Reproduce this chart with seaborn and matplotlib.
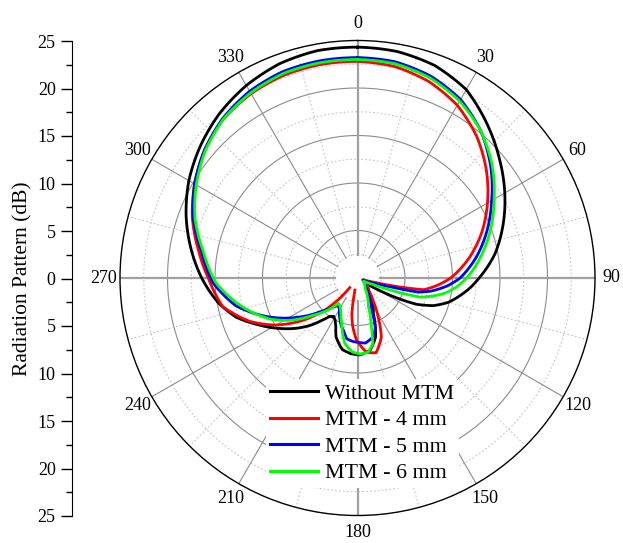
import numpy as np
import pandas as pd
import matplotlib
matplotlib.use('Agg')
import matplotlib.pyplot as plt
import seaborn as sns
from matplotlib.ticker import FixedLocator, MultipleLocator, FuncFormatter

# ---------------- data (angle in degrees, clockwise from top; radius in dB-axis units) ----------------
series_names = ['Without MTM', 'MTM - 4 mm', 'MTM - 5 mm', 'MTM - 6 mm']
series_colors = ['#000000', '#ff0000', '#0000ff', '#00ff00']

black_deg = [0, 10, 20, 30, 40, 50, 60, 70, 80, 90, 95, 100, 105, 110, 114, 118, 122,
             130, 140, 150, 156, 163, 170, 178, 185, 192, 200, 204, 208, 212, 216, 220,
             225, 230, 237, 245, 252, 260, 270, 280, 290, 300, 310, 320, 330, 340, 350, 360]
black_r = [24.3, 24.2, 23.8, 22.9, 21.2, 19.5, 17.9, 16.3, 14.7, 12.8, 11.9, 10.9, 9.9, 8.5, 6.8, 3.8, 1.05,
           1.3, 1.9, 3.2, 4.1, 6.5, 7.7, 8.1, 8.0, 7.7, 6.6, 5.6, 5.0, 4.75, 5.0, 5.8,
           7.05, 8.2, 9.75, 11.6, 13.4, 14.9, 16.4, 17.8, 19.2, 20.5, 21.6, 22.6, 23.4, 24.0, 24.3, 24.3]

red_deg = [0, 10, 20, 30, 40, 50, 60, 70, 80, 90, 95, 100, 102, 104, 107,
           115, 125, 138, 146, 152, 158, 166, 173, 181, 186, 189, 192,
           219, 221, 225, 232, 240, 248, 258, 270, 280, 290, 300, 310, 320, 330, 340, 350, 360]
red_r = [22.8, 22.6, 22.0, 21.0, 19.5, 17.7, 15.8, 13.9, 11.9, 9.8, 8.5, 7.1, 4.5, 2.0, 0.6,
         0.9, 1.2, 1.7, 3.0, 4.6, 6.7, 8.1, 7.9, 6.5, 5.0, 3.8, 1.3,
         1.3, 2.8, 4.6, 7.2, 9.9, 12.2, 14.5, 15.7, 17.0, 18.5, 19.8, 21.0, 21.9, 22.4, 22.7, 22.8, 22.8]

blue_deg = [0, 10, 20, 30, 40, 50, 60, 70, 80, 90, 95, 100, 103, 105, 108, 112,
            125, 140, 150, 156, 160, 165, 173, 178, 184, 190, 195, 198, 204, 210, 215, 220,
            228, 237, 246, 257, 268, 280, 290, 300, 310, 320, 330, 340, 350, 360]
blue_r = [23.2, 23.1, 22.6, 21.7, 20.2, 18.3, 16.3, 14.5, 12.7, 10.8, 9.5, 7.9, 6.6, 3.5, 1.5, 0.6,
          0.9, 1.4, 2.6, 3.7, 5.5, 6.4, 6.9, 6.8, 6.7, 6.5, 5.7, 5.4, 4.6, 3.8, 3.5, 4.0,
          5.3, 7.6, 10.1, 13.1, 15.2, 16.7, 18.4, 19.8, 21.0, 22.0, 22.7, 23.1, 23.2, 23.2]

green_deg = [0, 10, 20, 30, 40, 50, 60, 70, 80, 90, 95, 100, 107, 110, 113, 118,
             126, 144, 152, 159, 164, 167, 172, 178, 184, 191, 199, 205, 211, 217, 220,
             230, 238, 245, 257, 268, 280, 290, 300, 310, 320, 330, 340, 350, 360]
green_r = [23.0, 22.9, 22.4, 21.5, 20.2, 18.5, 16.6, 14.9, 13.2, 11.5, 10.5, 9.3, 6.9, 3.7, 1.6, 0.7,
           0.85, 1.35, 2.2, 3.2, 5.3, 7.1, 7.9, 8.0, 7.8, 7.0, 5.1, 4.1, 3.5, 3.35, 4.0,
           6.1, 8.4, 10.2, 12.7, 14.9, 16.5, 18.2, 19.6, 20.9, 21.9, 22.5, 22.9, 23.0, 23.0]

angle_ticks = list(range(0, 360, 30))
radial_ticks = [-25, -20, -15, -10, -5, 0, 5, 10, 15, 20, 25]

# ---------------- figure ----------------
plt.rcParams['font.family'] = ['Liberation Serif', 'DejaVu Serif']
W, H = 623, 543
fig = plt.figure(figsize=(W / 100, H / 100), dpi=100)
cx, cy, R = 357.5, 278, 237.5
ax = fig.add_axes([(cx - R) / W, (H - cy - R) / H, 2 * R / W, 2 * R / H], projection='polar')
ax.set_theta_zero_location('N')
ax.set_theta_direction(-1)
ax.grid(False)

# grid (circles + spokes with an empty hole in the middle)
tf = np.linspace(0, 2 * np.pi, 721)
for rr in [5, 10, 15, 20]:
    ax.plot(tf, np.full_like(tf, rr), color='#8c8c8c', lw=0.8, zorder=1)
for rr in [2.5, 7.5, 12.5, 17.5, 22.5]:
    ax.plot(tf, np.full_like(tf, rr), color='#c4c4c4', lw=0.8, ls=(0, (1.5, 2)), zorder=1)
for a in angle_ticks:
    main = a % 90 == 0
    ax.plot([np.deg2rad(a)] * 2, [2.4, 25], color='#a0a0a0' if main else '#8c8c8c',
            lw=1.6 if main else 0.8, zorder=1)
for a in range(15, 360, 30):
    ax.plot([np.deg2rad(a)] * 2, [2.4, 25], color='#c4c4c4', lw=0.8, ls=(0, (1.5, 2)), zorder=1)
n_grid = len(ax.lines)

# data frame
frames = []
for name, deg, r in [(series_names[0], black_deg, black_r),
                     (series_names[2], blue_deg, blue_r),
                     (series_names[3], green_deg, green_r)]:
    frames.append(pd.DataFrame({'theta': np.deg2rad(deg), 'r': r, 'series': name}))
# red is drawn as one open path: left-tip -> over the top -> back lobe tip
rd = np.array(red_deg, dtype=float)
rr_ = np.array(red_r)
tail = rd >= 219
head = rd <= 192
red_theta = np.concatenate([rd[tail], rd[head] + 360])
red_rad = np.concatenate([rr_[tail], rr_[head]])
frames.append(pd.DataFrame({'theta': np.deg2rad(red_theta), 'r': red_rad, 'series': series_names[1]}))
df = pd.concat(frames, ignore_index=True)

sns.lineplot(data=df, x='theta', y='r', hue='series', hue_order=series_names,
             palette=dict(zip(series_names, series_colors)), sort=False, estimator=None,
             ax=ax, lw=2.0, zorder=3)
# draw the connecting segments as arcs in polar space (rendering only)
for ln in ax.lines[n_grid:]:
    ln.get_path()._interpolation_steps = 40
ax.set_xlabel('')
ax.set_ylabel('')
handles, labels = ax.get_legend_handles_labels()
if ax.get_legend() is not None:
    ax.get_legend().remove()

ax.set_ylim(0, 25)
ax.set_yticks([])
ax.set_xticks(np.deg2rad(angle_ticks))
ax.set_xticklabels([str(a) for a in angle_ticks], fontsize=13)
ax.xaxis.set_minor_locator(FixedLocator(np.deg2rad(np.arange(15, 360, 30))))
ax.tick_params(axis='x', which='major', direction='in', length=8, width=1, colors='black', pad=5)
ax.tick_params(axis='x', which='minor', direction='in', length=4, width=1, colors='black')
ax.spines['polar'].set_linewidth(1.0)

leg = fig.legend(handles, labels, loc='upper left', bbox_to_anchor=(266 / W, 1 - 379 / H),
                 frameon=True, facecolor='white', edgecolor='none', framealpha=1,
                 fontsize=15.8, handlelength=2.15, handletextpad=0.36, labelspacing=0.28,
                 borderpad=0.2, borderaxespad=0)
for h in leg.legend_handles:
    h.set_linewidth(2.2)

# left linear scale axis
lax = fig.add_axes([71.7 / W, (H - 516) / H, 0.0005, 475 / H])
lax.set_ylim(-25, 25)
lax.yaxis.set_major_locator(FixedLocator(radial_ticks))
lax.yaxis.set_minor_locator(MultipleLocator(2.5))
lax.yaxis.set_major_formatter(FuncFormatter(lambda v, p: f'{abs(v):g}'))
lax.tick_params(axis='y', which='major', length=8, width=1, labelsize=13, direction='out')
lax.tick_params(axis='y', which='minor', length=4, width=1, direction='out')
for s in ['top', 'right', 'bottom']:
    lax.spines[s].set_visible(False)
lax.set_xticks([])
lax.patch.set_visible(False)
lax.set_ylabel('Radiation Pattern (dB)', fontsize=15.5, labelpad=4)

fig.savefig('out.png', dpi=100)
